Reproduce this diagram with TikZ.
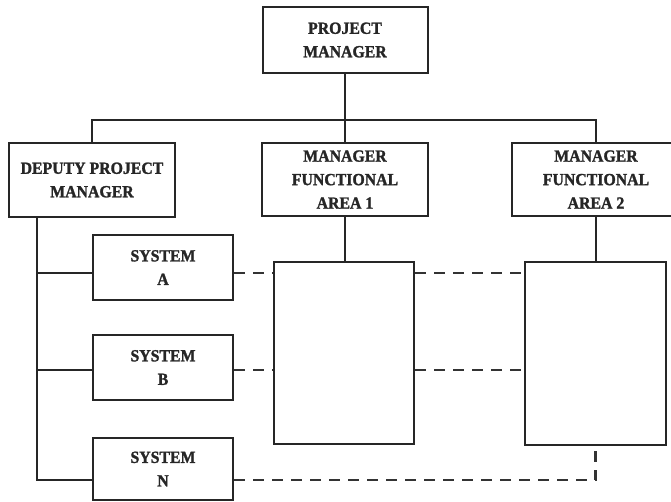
\documentclass[tikz,border=0pt]{standalone}
\usepackage{fontspec}
\setmainfont{Liberation Serif}
\newfontfamily\boxfont{Liberation Serif}[BoldFeatures={FakeStretch=0.93,FakeBold=1.5}]
\begin{document}
\begin{tikzpicture}[x=1pt,y=-1pt,
  line/.style={draw=black!85,line width=2pt},
  box/.style={line,rectangle,inner sep=0pt,align=center,text=black!85,
    font=\boxfont\fontsize{17}{23.5}\selectfont\bfseries},
  dashline/.style={draw=black!80,line width=2.2pt,dash pattern=on 11pt off 8pt}]
\path[use as bounding box,clip] (0,0) rectangle (671,501);
\fill[white] (0,0) rectangle (671,501);

% management boxes
\node[box,minimum width=165pt,minimum height=66pt] (pm) at (345,40) {PROJECT\\MANAGER};
\node[box,minimum width=166pt,minimum height=74pt] (dep) at (92,180) {DEPUTY PROJECT\\MANAGER};
\node[box,minimum width=166pt,minimum height=73pt] (mfa1) at (345,179.5) {MANAGER\\FUNCTIONAL\\AREA 1};
\node[box,minimum width=168pt,minimum height=73pt] (mfa2) at (596,179.5) {MANAGER\\FUNCTIONAL\\AREA 2};

% systems
\node[box,minimum width=140pt,minimum height=65pt] (sa) at (163,267.5) {SYSTEM\\A};
\node[box,minimum width=140pt,minimum height=65pt] (sb) at (163,367.5) {SYSTEM\\B};
\node[box,minimum width=140pt,minimum height=62pt] (sn) at (163,469) {SYSTEM\\N};

% functional area blocks
\node[box,minimum width=140pt,minimum height=182pt] (fa1) at (344,353) {};
\node[box,minimum width=141pt,minimum height=183pt] (fa2) at (595.5,353.5) {};

% row levels and bus
\coordinate (bus) at (345,120);
\coordinate (ra) at (0,273);
\coordinate (rb) at (0,370);
\coordinate (rn) at (0,480);
\coordinate (trunk) at (37,217);

% solid reporting lines
\draw[line] (pm.south) -- (bus);
\draw[line] (dep.north) -- (dep.north |- bus) -- (mfa2.north |- bus) -- (mfa2.north);
\draw[line] (bus) -- (mfa1.north);
\draw[line] (mfa1.south) -- (mfa1.south |- fa1.north);
\draw[line] (mfa2.south) -- (mfa2.south |- fa2.north);
\draw[line] (trunk) |- (sn.west |- rn);
\draw[line] (trunk |- ra) -- (sa.west |- ra);
\draw[line] (trunk |- rb) -- (sb.west |- rb);

% dashed coordination lines
\draw[dashline] (sa.east |- ra) -- (fa1.west |- ra);
\draw[dashline] (fa1.east |- ra) -- (fa2.west |- ra);
\draw[dashline] (sb.east |- rb) -- (fa1.west |- rb);
\draw[dashline] (fa1.east |- rb) -- (fa2.west |- rb);
\draw[dashline] (sn.east |- rn) -| (fa2.south);
\end{tikzpicture}
\end{document}
